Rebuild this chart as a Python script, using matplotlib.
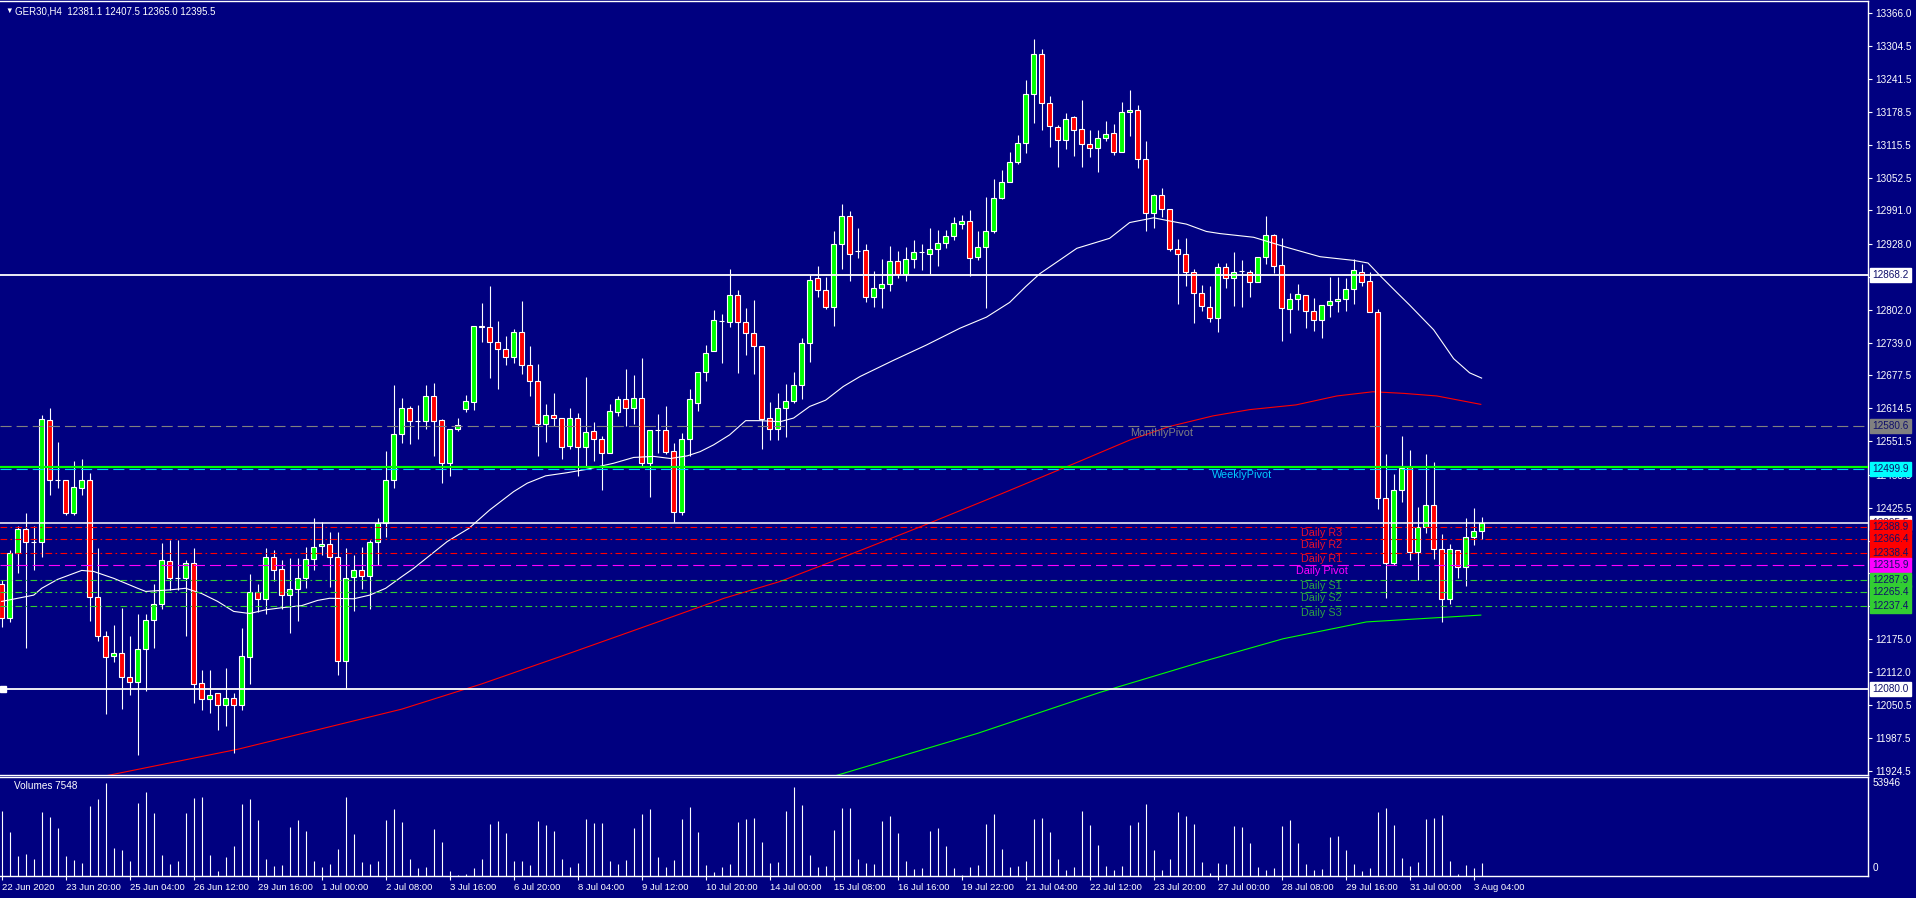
import matplotlib.pyplot as plt
from matplotlib.patches import Rectangle
from matplotlib.transforms import blended_transform_factory

plt.rcParams['font.family'] = ['Liberation Sans', 'DejaVu Sans']

# Data ########################################################

opens = [12281, 12215, 12339, 12385, 12360, 12360, 12592, 12478, 12479, 12416,
         12462, 12479, 12255, 12182, 12143, 12148, 12103, 12094, 12156, 12212,
         12243, 12323, 12292, 12292, 12321, 12091, 12061, 12072, 12049, 12063,
         12049, 12141, 12264, 12251, 12331, 12308, 12259, 12270, 12291, 12327,
         12352, 12356, 12331, 12134, 12293, 12306, 12296, 12361, 12397, 12479,
         12565, 12616, 12590, 12591, 12637, 12592, 12510, 12576, 12614, 12627,
         12772, 12769, 12740, 12727, 12712, 12759, 12696, 12666, 12584, 12601,
         12596, 12542, 12596, 12540, 12571, 12557, 12530, 12607, 12632, 12615,
         12635, 12511, 12573, 12573, 12534, 12417, 12556, 12625, 12683, 12724,
         12781, 12779, 12831, 12778, 12757, 12733, 12596, 12576, 12615, 12628,
         12659, 12738, 12862, 12840, 12808, 12928, 12981, 12913, 12916, 12826,
         12843, 12852, 12895, 12871, 12898, 12912, 12909, 12917, 12930, 12942,
         12965, 12970, 12903, 12921, 12951, 13014, 13046, 13083, 13119, 13212,
         13289, 13195, 13149, 13126, 13168, 13146, 13117, 13109, 13128, 13138,
         13103, 13178, 13182, 13088, 12986, 13020, 12993, 12917, 12908, 12874,
         12834, 12807, 12786, 12883, 12862, 12876, 12874, 12855, 12903, 12944,
         12888, 12804, 12823, 12830, 12799, 12782, 12811, 12818, 12823, 12842,
         12874, 12857, 12798, 12444, 12321, 12459, 12502, 12341, 12388, 12431,
         12346, 12251, 12344, 12312, 12369, 12381.1]
highs = [12288, 12344, 12391, 12415, 12391, 12602, 12616, 12550, 12479, 12514,
         12518, 12492, 12348, 12191, 12202, 12234, 12181, 12223, 12223, 12280,
         12358, 12363, 12364, 12326, 12348, 12117, 12117, 12072, 12120, 12072,
         12196, 12299, 12280, 12348, 12345, 12326, 12329, 12329, 12350, 12405,
         12398, 12379, 12380, 12348, 12335, 12350, 12364, 12405, 12533, 12659,
         12634, 12619, 12621, 12659, 12663, 12594, 12576, 12597, 12640, 12772,
         12814, 12847, 12781, 12752, 12766, 12819, 12734, 12699, 12622, 12643,
         12596, 12615, 12605, 12674, 12588, 12562, 12623, 12638, 12689, 12678,
         12710, 12573, 12603, 12619, 12548, 12567, 12651, 12684, 12735, 12802,
         12794, 12880, 12840, 12805, 12821, 12733, 12627, 12643, 12660, 12684,
         12748, 12868, 12885, 12865, 12952, 13003, 12990, 12957, 12928, 12875,
         12898, 12923, 12913, 12921, 12935, 12928, 12957, 12954, 12954, 12978,
         12982, 12992, 12952, 13017, 13050, 13068, 13102, 13135, 13239, 13317,
         13298, 13208, 13154, 13176, 13171, 13201, 13144, 13145, 13161, 13155,
         13198, 13220, 13192, 13123, 13022, 13034, 12993, 12937, 12939, 12879,
         12849, 12847, 12891, 12891, 12912, 12896, 12878, 12903, 12981, 12947,
         12939, 12834, 12851, 12830, 12825, 12811, 12864, 12864, 12862, 12898,
         12889, 12874, 12804, 12528, 12490, 12562, 12535, 12426, 12528, 12512,
         12375, 12356, 12344, 12405, 12424, 12407.5]
lows = [12199, 12207, 12302, 12158, 12306, 12331, 12450, 12462, 12412, 12412,
        12450, 12210, 12171, 12032, 12131, 12042, 12069, 11955, 12077, 12158,
        12232, 12269, 12269, 12181, 12054, 12040, 12034, 12002, 12009, 11959,
        12040, 12090, 12226, 12224, 12285, 12232, 12186, 12210, 12272, 12307,
        12335, 12275, 12107, 12082, 12228, 12270, 12232, 12316, 12369, 12462,
        12548, 12546, 12557, 12576, 12524, 12473, 12486, 12572, 12608, 12611,
        12740, 12673, 12651, 12696, 12701, 12679, 12637, 12523, 12551, 12580,
        12518, 12537, 12485, 12505, 12515, 12459, 12530, 12599, 12580, 12585,
        12505, 12445, 12530, 12527, 12399, 12412, 12523, 12610, 12667, 12724,
        12701, 12770, 12682, 12716, 12680, 12537, 12554, 12554, 12560, 12625,
        12632, 12702, 12827, 12803, 12772, 12879, 12857, 12900, 12816, 12807,
        12805, 12837, 12862, 12856, 12881, 12878, 12871, 12886, 12919, 12934,
        12955, 12867, 12897, 12806, 12949, 13013, 13045, 13079, 13101, 13158,
        13145, 13112, 13073, 13108, 13095, 13074, 13093, 13065, 13123, 13097,
        13103, 13133, 13071, 12951, 12958, 12979, 12913, 12813, 12847, 12776,
        12799, 12779, 12759, 12844, 12810, 12808, 12827, 12855, 12889, 12872,
        12743, 12757, 12802, 12767, 12762, 12748, 12789, 12798, 12800, 12813,
        12847, 12798, 12422, 12253, 12317, 12437, 12325, 12288, 12378, 12327,
        12208, 12242, 12291, 12276, 12355, 12365.0]
closes = [12215, 12339, 12385, 12360, 12360, 12594, 12479, 12478, 12416, 12464,
          12479, 12255, 12182, 12141, 12148, 12103, 12094, 12156, 12212, 12243,
          12325, 12291, 12292, 12320, 12089, 12061, 12069, 12049, 12063, 12049,
          12143, 12264, 12251, 12331, 12306, 12259, 12270, 12291, 12327, 12350,
          12356, 12331, 12134, 12291, 12306, 12296, 12360, 12397, 12479, 12565,
          12616, 12590, 12590, 12637, 12590, 12510, 12576, 12583, 12628, 12772,
          12769, 12741, 12727, 12712, 12759, 12696, 12666, 12584, 12601, 12596,
          12540, 12596, 12540, 12569, 12557, 12530, 12609, 12632, 12615, 12635,
          12511, 12573, 12573, 12532, 12417, 12556, 12632, 12683, 12719, 12782,
          12781, 12831, 12778, 12757, 12733, 12594, 12576, 12615, 12628, 12659,
          12738, 12859, 12840, 12807, 12928, 12981, 12909, 12913, 12826, 12843,
          12852, 12895, 12871, 12898, 12912, 12912, 12917, 12930, 12942, 12968,
          12970, 12901, 12921, 12951, 13014, 13046, 13083, 13119, 13212, 13289,
          13195, 13151, 13126, 13166, 13145, 13117, 13109, 13128, 13136, 13103,
          13178, 13183, 13088, 12986, 13020, 12993, 12918, 12908, 12874, 12834,
          12810, 12786, 12883, 12862, 12874, 12876, 12855, 12903, 12944, 12886,
          12806, 12823, 12832, 12799, 12782, 12811, 12818, 12823, 12842, 12877,
          12854, 12798, 12443, 12321, 12459, 12500, 12341, 12388, 12431, 12346,
          12251, 12346, 12312, 12369, 12381, 12395.5]
volumes = [37950, 25690, 11500, 12670, 9750, 37360, 34440, 27850, 11500, 9170,
           7410, 40690, 44780, 53946, 16580, 15000, 8580, 42440, 48860, 36780,
           12080, 6830, 8580, 36780, 45360, 45950, 12080, 2740, 10920, 17340,
           42030, 44780, 32520, 9750, 5660, 6250, 28430, 32520, 26100, 8580,
           5080, 6830, 15590, 45950, 24340, 8000, 6830, 8580, 32520, 38940,
           31740, 10140, 4880, 5470, 27650, 20060, 2940, 800, 1380, 4880,
           10140, 30570, 32320, 25320, 8970, 8970, 6640, 32320, 29990, 26480,
           10140, 5470, 7800, 33490, 31150, 31150, 8970, 7220, 9550, 28240,
           36410, 39330, 11310, 5470, 9550, 33490, 40500, 25900, 6640, 2550,
           5470, 7220, 31740, 33490, 34070, 20060, 7800, 8390, 38160, 52170,
           41660, 12470, 5470, 6050, 27070, 39910, 39910, 10140, 7800, 7220,
           32320, 35240, 25320, 8970, 4300, 4880, 26480, 28240, 17730, 4880,
           410, 5470, 6640, 30570, 36410, 15980, 5470, 6050, 8970, 33490,
           34070, 25900, 10140, 3720, 5470, 38160, 29990, 18310, 6050, 3720,
           6050, 29990, 31740, 42250, 15390, 3720, 10140, 37580, 35240, 30570,
           8390, 1970, 7800, 7220, 29400, 28820, 19480, 5470, 3720, 4880,
           29400, 32910, 19480, 7220, 3720, 4300, 22980, 23570, 15390, 7220,
           3130, 4880, 37580, 39910, 29990, 10720, 6050, 8390, 33490, 34070,
           35830, 8970, 1380, 6640, 4880, 7548]

# moving averages (bar index, price)
ma_white_x = [0, 2, 4, 5, 7, 10, 11.5, 14, 17, 18, 21, 23, 25, 27, 29, 31, 33, 35, 37.5, 39.5,
              41, 44, 46, 48, 50, 51.5, 55.7, 58.4, 61, 64, 65.7, 68, 70.7, 73, 76.5, 79, 81.5,
              83.6, 85.7, 87.3, 89, 91, 93, 94.8, 97.3, 99, 101, 103, 105.2, 107.3, 111.5, 115.6,
              119.8, 123.1, 126, 128, 129.8, 132.3, 134.4, 138.5, 141, 144, 146, 148.1, 150.6,
              152.3, 156.5, 160.6, 164.8, 169, 170.8, 172.3, 174.4, 176, 179, 181.5, 183.5, 185]
ma_white_y = [12247, 12253, 12259, 12272, 12289, 12306, 12304, 12291, 12272, 12266,
              12269, 12272, 12262, 12247, 12228, 12224, 12231, 12235, 12239, 12249,
              12253, 12252, 12259, 12272, 12294, 12310, 12361, 12386, 12421, 12456,
              12472, 12486, 12492, 12498, 12510, 12521, 12523, 12519, 12524, 12532,
              12545, 12564, 12591, 12591, 12589, 12596, 12618, 12630, 12656, 12675,
              12706, 12735, 12767, 12788, 12816, 12846, 12871, 12897, 12919, 12938,
              12968, 12977, 12971, 12965, 12951, 12947, 12940, 12921, 12903, 12896,
              12891, 12867, 12835, 12811, 12764, 12709, 12682, 12672]
ma_red_x = [12, 29.6, 50, 60, 70, 80, 90.3, 97.3, 105, 115, 125, 134.8, 141, 146, 151.4,
            156, 161.8, 166.9, 171.4, 175.2, 179.4, 184.9]
ma_red_y = [11912, 11966, 12042, 12090, 12143, 12197, 12253, 12285, 12330, 12390, 12452,
            12514, 12554, 12580, 12600, 12612, 12621, 12638, 12646, 12643, 12638, 12622]
ma_green_x = [103.5, 122, 137.3, 150, 160.2, 170.6, 184.9]
ma_green_y = [11912, 11996, 12074, 12132, 12176, 12208, 12221]

# pivot levels
daily_levels = [12388.9, 12366.4, 12338.4, 12315.9, 12287.9, 12265.4, 12237.4]
daily_names = ['Daily R3', 'Daily R2', 'Daily R1', 'Daily Pivot', 'Daily S1', 'Daily S2', 'Daily S3']
weekly_pivot = 12499.9
monthly_pivot = 12580.6
white_lines = [12868.2, 12080.0]
green_line = 12503.0
bid = 12395.5

price_ticks = [13366.0, 13304.5, 13241.5, 13178.5, 13115.5, 13052.5, 12991.0, 12928.0,
               12865.0, 12802.0, 12739.0, 12677.5, 12614.5, 12551.5, 12488.5, 12425.5,
               12362.5, 12301.0, 12238.0, 12175.0, 12112.0, 12050.5, 11987.5, 11924.5]
time_labels = ['22 Jun 2020', '23 Jun 20:00', '25 Jun 04:00', '26 Jun 12:00', '29 Jun 16:00',
               '1 Jul 00:00', '2 Jul 08:00', '3 Jul 16:00', '6 Jul 20:00', '8 Jul 04:00',
               '9 Jul 12:00', '10 Jul 20:00', '14 Jul 00:00', '15 Jul 08:00', '16 Jul 16:00',
               '19 Jul 22:00', '21 Jul 04:00', '22 Jul 12:00', '23 Jul 20:00', '27 Jul 00:00',
               '28 Jul 08:00', '29 Jul 16:00', '31 Jul 00:00', '3 Aug 04:00']

# Figure ######################################################

BG = '#000080'
W, H = 1916, 898
fig = plt.figure(figsize=(W / 100, H / 100), dpi=100, facecolor=BG)
ax = fig.add_axes([0, 123 / H, 1868 / W, 774 / H], facecolor=BG)
axv = fig.add_axes([0, 22 / H, 1868 / W, 99.5 / H], facecolor=BG)

xmin, xmax = -0.21, 233.3
ax.set_xlim(xmin, xmax)
ax.set_ylim(11916.7, 13389.6)
axv.set_xlim(xmin, xmax)
axv.set_ylim(0, 58000)

for a in (ax, axv):
    for s in ('top', 'right', 'bottom'):
        a.spines[s].set_color('white')
        a.spines[s].set_linewidth(1)
    a.spines['left'].set_visible(False)

# candles
n = len(opens)
for i in range(n):
    o, h, l, c = opens[i], highs[i], lows[i], closes[i]
    ax.vlines(i, l, h, color='white', lw=0.8, zorder=3)
    col = '#00ff00' if c > o else ('#ff0000' if c < o else 'white')
    ax.add_patch(Rectangle((i - 0.31, min(o, c)), 0.62, abs(c - o), fc=col, ec='white',
                           lw=0.8, zorder=4))

# moving averages
ax.plot(ma_white_x, ma_white_y, color='white', lw=0.8, zorder=5)
ax.plot(ma_red_x, ma_red_y, color='#ff0000', lw=0.8, zorder=2)
ax.plot(ma_green_x, ma_green_y, color='#00ff00', lw=0.8, zorder=2)

# horizontal levels
ax.axhline(monthly_pivot, color='#808080', lw=0.8, dashes=(10, 4.5), zorder=6)
ax.axhline(weekly_pivot, color='#00ccff', lw=0.8, dashes=(10, 4.5), zorder=6)
ax.axhline(green_line, color='#00ff00', lw=1.6, zorder=6)
daily_colors = ['#ff0000', '#ff0000', '#ff0000', '#ff00ff', '#32cd32', '#32cd32', '#32cd32']
text_colors = ['#e8102c', '#e8102c', '#e8102c', '#ff00ff', '#2ea043', '#2ea043', '#2ea043']
for lev, name, lc, tc in zip(daily_levels, daily_names, daily_colors, text_colors):
    if 'Pivot' in name:
        ax.axhline(lev, color=lc, lw=0.8, dashes=(10, 4.5), zorder=6)
    else:
        ax.axhline(lev, color=lc, lw=0.8, dashes=(6, 3, 1.5, 3), zorder=6)
    ax.text(165, lev - 2, name, color=tc, fontsize=7.8, ha='center', va='top', zorder=7)
ax.text(155, weekly_pivot - 3, 'WeeklyPivot', color='#00ccff', fontsize=7.8, ha='center',
        va='top', zorder=7)
ax.text(145, monthly_pivot - 3, 'MonthlyPivot', color='#808080', fontsize=7.8, ha='center',
        va='top', zorder=7)
for lev in white_lines:
    ax.axhline(lev, color='white', lw=1.3, zorder=6)
ax.axhline(bid, color='white', lw=1.1, zorder=6)
ax.plot([0.2], [white_lines[1]], marker='s', ms=4, color='white', clip_on=False, zorder=8)

# price axis
ax.yaxis.tick_right()
ax.set_yticks(price_ticks)
ax.set_yticklabels([f'{t:.1f}' for t in price_ticks])
ax.tick_params(axis='y', colors='white', length=3, width=0.8, labelsize=7.2, pad=2)
ax.set_xticks([])

trans = blended_transform_factory(ax.transAxes, ax.transData)


def price_box(y, fc):
    ax.text(1.0024, y, f'{y:.1f}', transform=trans, fontsize=7.2, color='#10106a',
            va='center', ha='left', clip_on=False, zorder=10,
            bbox=dict(boxstyle='square,pad=0.2', fc=fc, ec=fc))


price_box(white_lines[0], 'white')
price_box(white_lines[1], 'white')
price_box(monthly_pivot, '#808080')
price_box(weekly_pivot, '#00ffff')
price_box(bid, 'white')
for lev, fc in zip(daily_levels, ['#ff0000', '#ff0000', '#ff0000', '#ff00ff',
                                  '#32cd32', '#32cd32', '#32cd32']):
    price_box(lev, fc)

# volumes
axv.vlines(range(n), 0, volumes, color='white', lw=0.8)
axv.set_yticks([])
axv.text(1.5, 58000 * 0.9, f'Volumes {volumes[-1]}', color='white', fontsize=7.2,
         va='center', ha='left')
tv = blended_transform_factory(axv.transAxes, axv.transData)
axv.text(1.0024, 53946, '53946', transform=tv, color='white', fontsize=7.2, va='center',
         ha='left', clip_on=False)
axv.text(1.0024, 1500, '0', transform=tv, color='white', fontsize=7.2, va='bottom',
         ha='left', clip_on=False)
axv.set_xticks(range(0, n, 8))
axv.set_xticklabels(time_labels, ha='left')
axv.tick_params(axis='x', colors='white', length=3, width=0.8, labelsize=6.8, pad=2)

# header
fig.text(5 / W, 1 - 11 / H, '\u25bc', color='white', fontsize=5.5, va='center', ha='left')
fig.text(15 / W, 1 - 11 / H, 'GER30,H4  12381.1 12407.5 12365.0 12395.5', color='white',
         fontsize=7, va='center', ha='left')

fig.savefig('out.png', dpi=100, facecolor=BG)
